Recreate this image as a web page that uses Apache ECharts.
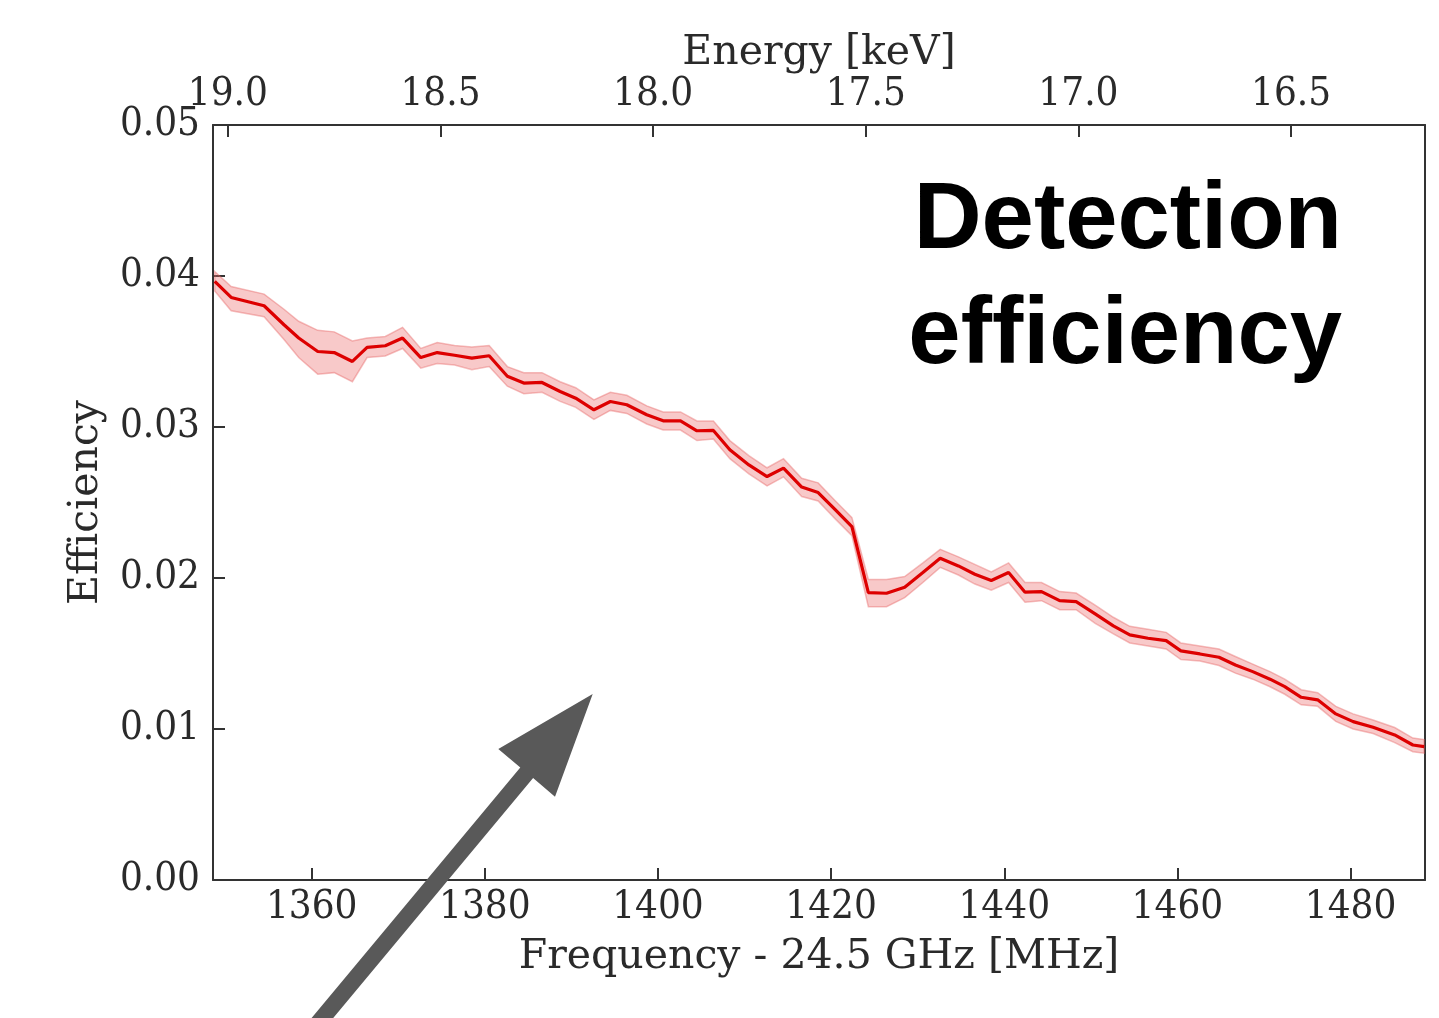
<!DOCTYPE html>
<html>
<head>
<meta charset="utf-8">
<script src="https://cdn.jsdelivr.net/npm/echarts@6/dist/echarts.min.js"></script>
<style>
html,body{margin:0;padding:0;background:#fff;}
#chart{width:1439px;height:1018px;}
</style>
</head>
<body>
<div id="chart"></div>
<script>
// Frequency - 24.5 GHz [MHz]
const freq = [1348.8,1350.7,1354.5,1356.8,1358.5,1360.7,1362.6,1364.7,1366.4,1368.5,1370.5,1372.6,1374.5,1376.5,1378.5,1380.5,1382.6,1384.5,1386.6,1388.7,1390.5,1392.6,1394.5,1396.4,1398.7,1400.6,1402.6,1404.5,1406.4,1408.3,1410.5,1412.6,1414.5,1416.6,1418.5,1420.5,1422.4,1424.3,1426.4,1428.5,1430.6,1432.6,1434.7,1436.6,1438.5,1440.5,1442.4,1444.3,1446.4,1448.3,1450.5,1452.6,1454.5,1456.6,1458.7,1460.4,1462.6,1464.8,1466.7,1468.7,1470.7,1472.4,1474.3,1476.2,1478.3,1480.3,1482.6,1485.1,1487.2,1488.5];
// Efficiency (central line)
const efficiency = [0.03964,0.03858,0.03803,0.03677,0.03589,0.03500,0.03493,0.03434,0.03527,0.03538,0.03589,0.03460,0.03493,0.03475,0.03456,0.03472,0.03336,0.03291,0.03295,0.03235,0.03191,0.03114,0.03169,0.03147,0.03081,0.03041,0.03041,0.02975,0.02977,0.02849,0.02749,0.02672,0.02728,0.02602,0.02566,0.02451,0.02341,0.01903,0.01899,0.01939,0.02036,0.02131,0.02080,0.02025,0.01983,0.02036,0.01906,0.01910,0.01850,0.01844,0.01762,0.01683,0.01623,0.01601,0.01585,0.01517,0.01497,0.01475,0.01424,0.01380,0.01330,0.01281,0.01210,0.01193,0.01100,0.01049,0.01012,0.00961,0.00894,0.00883];
// Uncertainty band
const upper = [0.0403,0.0393,0.0388,0.0378,0.0370,0.0364,0.0363,0.0357,0.0359,0.0360,0.0366,0.0352,0.0356,0.0354,0.0353,0.0354,0.0340,0.0336,0.0336,0.0330,0.0326,0.0318,0.0323,0.0321,0.0314,0.0310,0.0310,0.0304,0.0304,0.0291,0.0281,0.0273,0.0279,0.0266,0.0263,0.0251,0.0240,0.0199,0.0199,0.0201,0.0210,0.0219,0.0214,0.0209,0.0204,0.0210,0.0197,0.0197,0.0191,0.0190,0.0182,0.0174,0.0168,0.0166,0.0164,0.0157,0.0155,0.0153,0.0148,0.0143,0.0138,0.0133,0.0126,0.0124,0.0115,0.0110,0.0106,0.0101,0.0094,0.0093];
const lower = [0.0390,0.0377,0.0373,0.0358,0.0346,0.0335,0.0336,0.0330,0.0346,0.0347,0.0352,0.0339,0.0342,0.0341,0.0338,0.0340,0.0327,0.0322,0.0323,0.0317,0.0313,0.0305,0.0311,0.0309,0.0302,0.0298,0.0298,0.0291,0.0292,0.0279,0.0269,0.0261,0.0267,0.0254,0.0251,0.0239,0.0228,0.0181,0.0181,0.0187,0.0197,0.0207,0.0202,0.0196,0.0192,0.0197,0.0184,0.0185,0.0179,0.0179,0.0170,0.0163,0.0157,0.0155,0.0153,0.0146,0.0145,0.0142,0.0137,0.0133,0.0128,0.0123,0.0116,0.0115,0.0105,0.0100,0.0097,0.0091,0.0085,0.0084];
// Tick labels
const freqTicks = [1360,1380,1400,1420,1440,1460,1480];
const energyTicks = [19.0,18.5,18.0,17.5,17.0,16.5];
const effTicks = [0.00,0.01,0.02,0.03,0.04,0.05];
const titleLines = ['Detection','efficiency'];

const tickFont = '"DejaVu Serif Condensed", "DejaVu Serif", serif';
const nameFont = '"DejaVu Serif", serif';
const txt = '#2a2a2a';
const axisCol = '#333333';

const chart = echarts.init(document.getElementById('chart'), null, {renderer:'canvas'});

const lineData = freq.map((f,i)=>[f, efficiency[i]]);
const bandData = freq.map((f,i)=>[f, upper[i], lower[i]]);

const option = {
  animation:false,
  backgroundColor:'#ffffff',
  grid:{left:213, right:14, top:125, bottom:138, containLabel:false},
  xAxis:[{
    type:'value', position:'bottom', min:1348.6, max:1488.6,
    name:'Frequency - 24.5 GHz [MHz]', nameLocation:'middle', nameGap:57, nameMoveOverlap:false,
    nameTextStyle:{fontFamily:nameFont, fontSize:41, color:txt},
    axisLine:{show:true, onZero:false, lineStyle:{color:axisCol, width:2}},
    axisTick:{show:true, inside:true, length:12, customValues:freqTicks, lineStyle:{color:axisCol, width:2}},
    axisLabel:{show:true, customValues:freqTicks, margin:8, fontFamily:tickFont, fontSize:40, color:txt,
      formatter:v=>String(v)},
    splitLine:{show:false}
  },{
    type:'value', position:'top', inverse:true, min:16.185, max:19.035,
    name:'Energy [keV]', nameLocation:'middle', nameGap:51, nameMoveOverlap:false,
    nameTextStyle:{fontFamily:nameFont, fontSize:41, color:txt},
    axisLine:{show:true, onZero:false, lineStyle:{color:axisCol, width:2}},
    axisTick:{show:true, inside:true, length:12, customValues:energyTicks, lineStyle:{color:axisCol, width:2}},
    axisLabel:{show:true, customValues:energyTicks, margin:10, fontFamily:tickFont, fontSize:40, color:txt,
      formatter:v=>Number(v).toFixed(1)},
    splitLine:{show:false}
  }],
  yAxis:[{
    type:'value', position:'left', min:0, max:0.05,
    name:'Efficiency', nameLocation:'middle', nameGap:106, nameMoveOverlap:false,
    nameTextStyle:{fontFamily:nameFont, fontSize:41, color:txt},
    axisLine:{show:true, onZero:false, lineStyle:{color:axisCol, width:2}},
    axisTick:{show:true, inside:true, length:12, customValues:effTicks, lineStyle:{color:axisCol, width:2}},
    axisLabel:{show:true, customValues:effTicks, margin:13, fontFamily:tickFont, fontSize:40, color:txt,
      formatter:v=>Number(v).toFixed(2)},
    splitLine:{show:false}
  },{
    type:'value', position:'right', min:0, max:0.05,
    axisLine:{show:true, onZero:false, lineStyle:{color:axisCol, width:2}},
    axisTick:{show:false}, axisLabel:{show:false}, splitLine:{show:false}
  }],
  series:[{
    type:'custom', xAxisIndex:0, yAxisIndex:0, data:bandData, z:1,
    renderItem:function(params, api){
      if (params.dataIndex !== 0) return null;
      const top = bandData.map(d=>api.coord([d[0], d[1]]));
      const bot = bandData.slice().reverse().map(d=>api.coord([d[0], d[2]]));
      return {type:'polygon', shape:{points:top.concat(bot)},
        style:{fill:'rgba(235,105,105,0.36)', stroke:'rgba(230,95,95,0.4)', lineWidth:1.5}};
    }
  },{
    type:'line', xAxisIndex:0, yAxisIndex:0, data:lineData, z:3,
    showSymbol:false, symbol:'none',
    lineStyle:{color:'#dd0000', width:3.2}
  }],
  graphic:[{
    type:'polygon', z:100,
    shape:{points:[[592.7,694],[555,796.7],[533.1,778.1],[318.8,1035.3],[306,1024.7],[520.3,767.5],[498.3,749]]},
    style:{fill:'#595959'}
  },{
    type:'text', z:100, x:1342, y:165,
    style:{text:titleLines.join('\n'), font:'bold 94px "Liberation Sans", Arial, sans-serif',
      fill:'#000', align:'right', verticalAlign:'top', lineHeight:115}
  }]
};
chart.setOption(option);
</script>
</body>
</html>
